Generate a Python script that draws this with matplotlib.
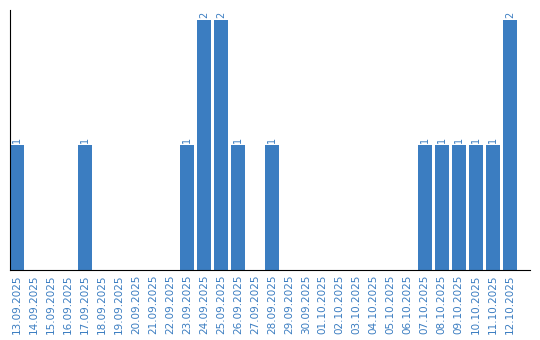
import matplotlib
matplotlib.use('Agg')
import matplotlib.pyplot as plt

dates = ['13.09.2025', '14.09.2025', '15.09.2025', '16.09.2025', '17.09.2025',
         '18.09.2025', '19.09.2025', '20.09.2025', '21.09.2025', '22.09.2025',
         '23.09.2025', '24.09.2025', '25.09.2025', '26.09.2025', '27.09.2025',
         '28.09.2025', '29.09.2025', '30.09.2025', '01.10.2025', '02.10.2025',
         '03.10.2025', '04.10.2025', '05.10.2025', '06.10.2025', '07.10.2025',
         '08.10.2025', '09.10.2025', '10.10.2025', '11.10.2025', '12.10.2025']
counts = [1, 0, 0, 0, 1, 0, 0, 0, 0, 0,
          1, 2, 2, 1, 0, 1, 0, 0, 0, 0,
          0, 0, 0, 0, 1, 1, 1, 1, 1, 2]

blue = '#3b7dc1'

fig = plt.figure(figsize=(5.4, 3.4), dpi=100)
ax = fig.add_axes([10/540, 70/340, 520/540, 260/340])

x = list(range(len(dates)))
ax.bar(x, counts, width=0.8, color=blue)
for i, v in enumerate(counts):
    if v > 0:
        ax.text(i, v + 0.02, str(v), rotation=90, ha='center', va='bottom',
                color=blue, fontsize=7)

ax.set_xlim(-0.4, 30.19)
ax.set_ylim(0, 2.08)
ax.set_xticks(x)
ax.set_xticklabels(dates, rotation=90, color=blue, fontsize=7.5)
ax.tick_params(axis='x', length=0, pad=3)
ax.set_yticks([])
ax.spines['top'].set_visible(False)
ax.spines['right'].set_visible(False)
ax.spines['left'].set_color('black')
ax.spines['bottom'].set_color('black')

fig.savefig('out.png', dpi=100)
